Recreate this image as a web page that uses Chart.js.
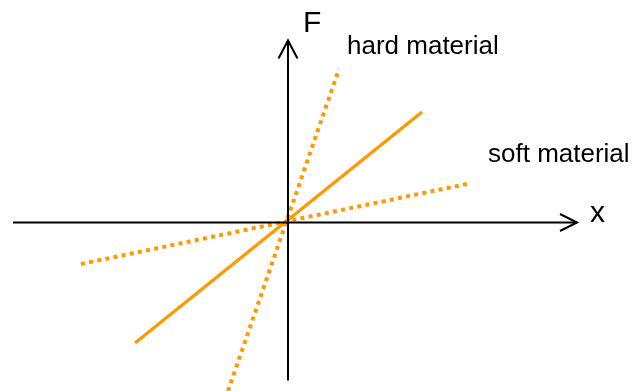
<!DOCTYPE html>
<html>
<head>
<meta charset="utf-8">
<script src="https://cdn.jsdelivr.net/npm/chart.js@4/dist/chart.umd.min.js"></script>
<style>
  body { margin: 0; background: #fff; }
  #wrap { width: 636px; height: 391px; position: relative; }
</style>
</head>
<body>
<div id="wrap"><canvas id="myChart"></canvas></div>
<script>
// axes, in the chart's own units (origin where the axes cross)
var xAxisX = [-275, 289];
var yAxisF = [-158, 182];

// force against extension
var normalX = [-153, 134];
var normalF = [-120.5, 110.5];
var hardX = [-60, 51];
var hardF = [-168.5, 153.5];
var softX = [-207, 179];
var softF = [-41.5, 38.5];

// text labels
var labelText = ['F', 'hard material', 'soft material', 'x'];
var labelX = [15, 59, 200, 302];
var labelF = [190.5, 168.5, 60.5, 0.5];

var orange = '#FF9900';

function pts(xs, ys){
  var out = [];
  for (var i = 0; i < xs.length; i++){
    out.push({x: xs[i], y: ys[i]});
  }
  return out;
}

function lineSet(data, color, width, dash){
  return {
    data: data,
    showLine: true,
    borderColor: color,
    borderWidth: width,
    borderDash: dash || [],
    borderCapStyle: 'butt',
    pointRadius: 0,
    fill: false,
    tension: 0
  };
}

// arrow heads are built from the axis tips
var headBack = 17, headHalf = 8.5;
var xTip = xAxisX[1], fTip = yAxisF[1];
var xHead = [{x: xTip - headBack, y: headHalf}, {x: xTip, y: 0}, {x: xTip - headBack, y: -headHalf}];
var fHead = [{x: -headHalf - 1, y: fTip - headBack - 1}, {x: 0, y: fTip}, {x: headHalf + 1, y: fTip - headBack - 1}];

var textPlugin = {
  id: 'labels',
  afterDraw: function(chart){
    var ctx = chart.ctx;
    var sx = chart.scales.x, sy = chart.scales.y;
    ctx.save();
    ctx.fillStyle = '#000';
    ctx.textBaseline = 'alphabetic';
    for (var i = 0; i < labelText.length; i++){
      var big = (labelText[i].length == 1);
      ctx.font = (big ? '30px' : '26px') + ' "Liberation Sans", Arial, sans-serif';
      ctx.fillText(labelText[i], sx.getPixelForValue(labelX[i]), sy.getPixelForValue(labelF[i]));
    }
    ctx.restore();
  }
};

var ctx = document.getElementById('myChart').getContext('2d');
var chart = new Chart(ctx, {
  type: 'scatter',
  data: {
    datasets: [
      lineSet(pts(xAxisX, [0, 0]), '#000', 2),
      lineSet(pts([0, 0], yAxisF), '#000', 2),
      lineSet(xHead, '#000', 2),
      lineSet(fHead, '#000', 2),
      lineSet(pts(softX, softF), orange, 4, [4, 4.3]),
      lineSet(pts(hardX, hardF), orange, 4, [4, 4.3]),
      lineSet(pts(normalX, normalF), orange, 3.3)
    ]
  },
  options: {
    responsive: true,
    maintainAspectRatio: false,
    animation: false,
    layout: {padding: 0},
    plugins: {legend: {display: false}, tooltip: {enabled: false}},
    scales: {
      x: {type: 'linear', min: -288, max: 348, display: false},
      y: {type: 'linear', min: -168.5, max: 222.5, display: false}
    }
  },
  plugins: [textPlugin]
});
</script>
</body>
</html>
